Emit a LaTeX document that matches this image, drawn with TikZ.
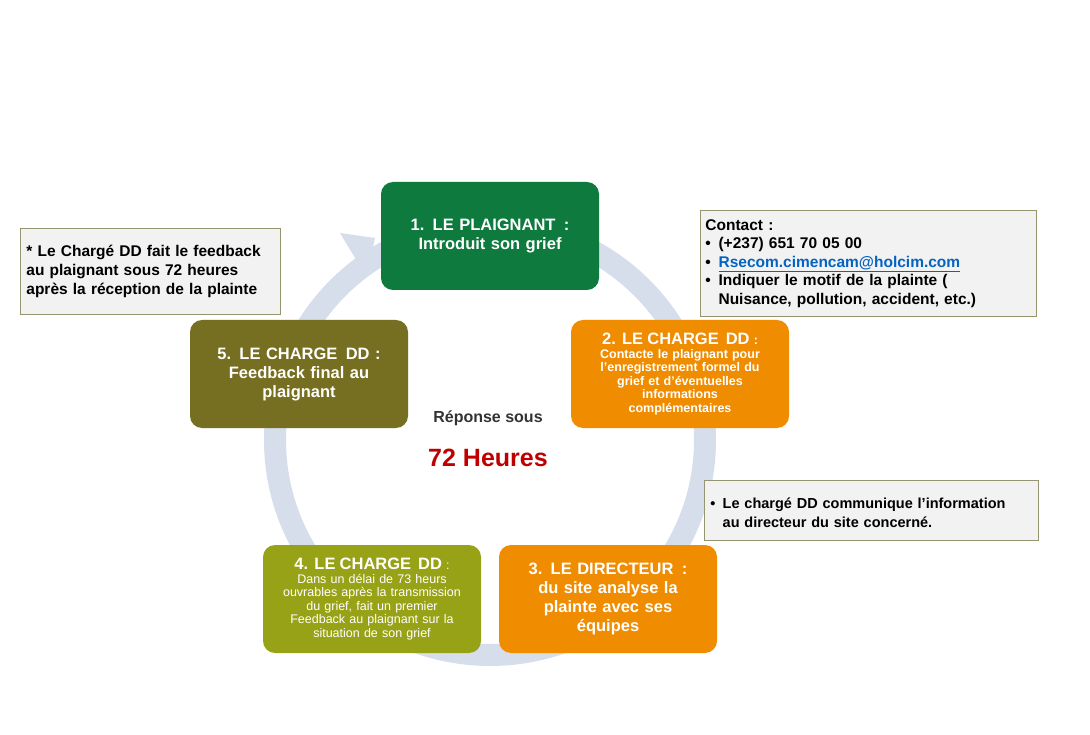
\documentclass[tikz,border=0pt]{standalone}
\usepackage{fontspec}
\setmainfont{Liberation Sans}
\usetikzlibrary{calc}
\begin{document}
\begin{tikzpicture}[x=1pt,y=-1pt,
  stepbox/.style={rounded corners=12pt,minimum width=218pt,minimum height=108pt,text width=210pt,text=white,align=center,inner sep=3pt},
  notebox/.style={draw=notebd,fill=notefill,line width=0.8pt,align=left,anchor=north west,font=\bfseries\fontsize{15.5}{19}\selectfont,inner sep=6pt}]
\definecolor{ring}{RGB}{214,222,236}
\definecolor{cgreen}{RGB}{14,122,62}
\definecolor{corange}{RGB}{240,140,0}
\definecolor{colive}{RGB}{118,110,32}
\definecolor{cyg}{RGB}{152,162,22}
\definecolor{notebd}{RGB}{150,150,110}
\definecolor{notefill}{RGB}{242,242,242}
\definecolor{dred}{RGB}{192,0,0}
\definecolor{linkb}{RGB}{5,99,193}
\newcommand\ttl{\bfseries\fontsize{16.5}{19}\selectfont}
\newcommand\sml{\fontsize{12.5}{13.5}\selectfont}
\useasboundingbox (0,0) rectangle (1090,735);
\fill[white] (0,0) rectangle (1090,735);
% ring
\draw[ring,line width=22pt] (490,440) circle (215);
\fill[ring] (340,233) -- (375,238) -- (367,274) -- (355,258) -- cycle;
% boxes
\node[stepbox,fill=cgreen,font=\ttl] (s1) at (490,236) {1. LE PLAIGNANT \,:\\Introduit son grief\\[16pt]};
\node[stepbox,fill=corange,font=\bfseries\sml] (s2) at (680,374) {{\ttl 2. LE CHARGE\, DD} :\\Contacte le plaignant pour\\l’enregistrement formel du\\grief et d’éventuelles\\informations\\complémentaires};
\node[stepbox,fill=colive,font=\ttl] (s5) at (299,374) {5. LE CHARGE\, DD :\\Feedback final au\\plaignant\\[8pt]};
\node[stepbox,fill=corange,font=\ttl] (s3) at (608,599) {3. LE DIRECTEUR \,:\\du site analyse la\\plainte avec ses\\équipes};
\node[stepbox,fill=cyg,font=\sml] (s4) at (372,599) {{\ttl 4. LE CHARGE\, DD} :\\Dans un délai de 73 heurs\\ouvrables après la transmission\\du grief, fait un premier\\Feedback au plaignant sur la\\situation de son grief};
\node[font=\bfseries\fontsize{16}{19}\selectfont,text=black!80] (rep) at (488,418) {Réponse sous};
\node[font=\bfseries\fontsize{25}{30}\selectfont,text=dred] (h72) at (488,458) {72 Heures};
% notes
\node[notebox,text width=248pt,minimum height=86pt] (n1) at (20,228) {* Le Chargé DD fait le feedback\\au plaignant sous 72 heures\\après la réception de la plainte};
\node[notebox,text width=326pt,minimum height=106pt,inner sep=5pt,font=\bfseries\fontsize{15.5}{18.5}\selectfont] (n2) at (700,210) {Contact :\\
\textbullet\enspace (+237) 651 70 05 00\\
\textbullet\enspace \textcolor{linkb}{\underline{Rsecom.cimencam@holcim.com}}\\
\textbullet\enspace Indiquer le motif de la plainte (\\
\phantom{\textbullet\enspace}Nuisance, pollution, accident, etc.)};
\node[notebox,text width=322pt,minimum height=60pt,font=\bfseries\fontsize{14.5}{19}\selectfont] (n3) at (704,480) {\\[-4pt]\textbullet\enspace Le chargé DD communique l’information\\\phantom{\textbullet\enspace}au directeur du site concerné.};
\end{tikzpicture}
\end{document}
